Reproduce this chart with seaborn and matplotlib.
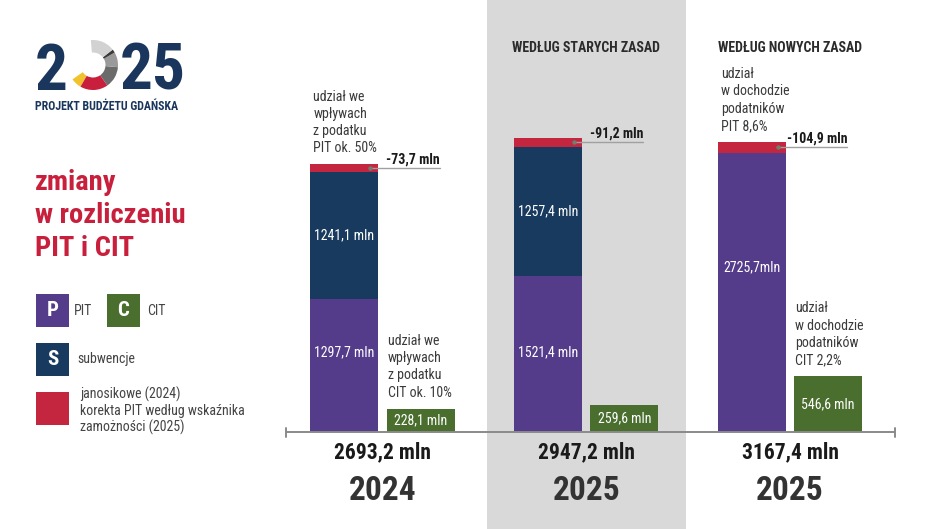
import numpy as np
import pandas as pd
import matplotlib
matplotlib.use("Agg")
import matplotlib.pyplot as plt
from matplotlib import font_manager as fm
from matplotlib.patches import Wedge, Rectangle
from matplotlib.transforms import Affine2D
import seaborn as sns

# ---------------- data ----------------
groups = ["2024", "2025 stare zasady", "2025 nowe zasady"]
years = ["2024", "2025", "2025"]
pit = [1297.7, 1521.4, 2725.7]
subwencje = [1241.1, 1257.4, 0.0]
cit = [228.1, 259.6, 546.6]
korekta = [73.7, 91.2, 104.9]          # janosikowe / korekta (shown as minus)
headers = ["", "WEDŁUG STARYCH ZASAD", "WEDŁUG NOWYCH ZASAD"]
pit_notes = [["udział we", "wpływach", "z podatku", "PIT ok. 50%"], [],
             ["udział", "w dochodzie", "podatników", "PIT 8,6%"]]
cit_notes = [["udział we", "wpływach", "z podatku", "CIT ok. 10%"], [],
             ["udział", "w dochodzie", "podatników", "CIT 2,2%"]]
pit_unit_sep = [" ", " ", ""]
title_lines = ["zmiany", "w rozliczeniu", "PIT i CIT"]

# ---------------- style ----------------
C_PIT = "#553c8b"
C_SUB = "#173a5e"
C_RED = "#c4253f"
C_CIT = "#4a6e2e"
C_BAND = "#d9d9d9"
C_TXT = "#2b2b2b"
C_NAVY = "#1b365d"
C_TITLE = "#c8203c"

sns.set_theme(style="white")
avail = {f.name for f in fm.fontManager.ttflist}
narrow = "DejaVu Sans"
for cand in ["Roboto Condensed", "Liberation Sans Narrow", "Open Sans Condensed",
             "Arial Narrow", "Noto Sans Display"]:
    if cand in avail:
        narrow = cand
        break
plt.rcParams["font.family"] = [narrow, "DejaVu Sans"]
FS = dict(fontstretch="condensed")

W, H = 940, 529
fig = plt.figure(figsize=(W / 100, H / 100), dpi=100, facecolor="white")
ax = fig.add_axes([0, 0, 1, 1])

X0, XS = 382.5, 203.75   # px of group 0 centre, px per category
Y0, YS = 432.0, 0.1025   # px of baseline, px per mln


def dx(px):
    return (px - X0) / XS


def dy(py):
    return (Y0 - py) / YS


def fx(px):
    return px / W


def fy(py):
    return 1 - py / H


pxT = Affine2D().scale(1 / W, -1 / H).translate(0, 1) + fig.transFigure

# background band for "old rules" group
ax.axvspan(dx(487), dx(686), color=C_BAND, lw=0, zorder=0)

# ---------------- bars (stack drawn as overlapping cumulative layers) ----------------
pit_a = np.array(pit)
sub_a = np.array(subwencje)
cit_a = np.array(cit)
red_a = np.array(korekta)


def layer(vals, kind, color):
    d = pd.DataFrame({"grupa": groups, "typ": kind, "wartosc": vals})
    sns.barplot(data=d, x="grupa", y="wartosc", hue="typ", order=groups,
                hue_order=["stos", "CIT"], palette={"stos": color, "CIT": color},
                dodge=True, width=0.75, gap=0.11, saturation=1, errorbar=None,
                legend=False, ax=ax, linewidth=0, zorder=2)


layer(pit_a + sub_a + red_a, "stos", C_RED)
layer(pit_a + sub_a, "stos", C_SUB)
layer(pit_a, "stos", C_PIT)
layer(cit_a, "CIT", C_CIT)

OFF = 0.1875
HALF = 0.167


def pl(v):
    return f"{v:.1f}".replace(".", ",")


pit_label_frac = [0.60, 0.51, 0.59]
for i in range(len(groups)):
    xs = i - OFF
    xc = i + OFF
    # inside labels
    ax.text(xs, pit_a[i] * pit_label_frac[i], pl(pit_a[i]) + pit_unit_sep[i] + "mln",
            ha="center", va="center", color="white", fontsize=10, zorder=5, **FS)
    if sub_a[i] > 0:
        ax.text(xs, pit_a[i] + sub_a[i] / 2, pl(sub_a[i]) + " mln",
                ha="center", va="center", color="white", fontsize=10, zorder=5, **FS)
    ax.text(xc, cit_a[i] / 2, pl(cit_a[i]) + " mln",
            ha="center", va="center", color="white", fontsize=10, zorder=5, **FS)
    # correction leader line
    ymid = pit_a[i] + sub_a[i] + red_a[i] / 2
    x_dot = xs + HALF - 0.04
    x_end = i + 0.28
    ax.plot([x_dot, x_end], [ymid, ymid], color="#a0a0a0", lw=1.0, zorder=6)
    ax.plot([x_dot], [ymid], marker="o", ms=2.2, color="#6f7f6f", zorder=7)
    ax.text(x_end, ymid + 4.5 / YS, "-" + pl(red_a[i]) + " mln", ha="right",
            va="baseline", color="#1a1a1a", fontsize=10, fontweight="bold", zorder=6, **FS)
    # totals and years
    total = pit_a[i] + sub_a[i] + cit_a[i] - red_a[i]
    ax.text(i, dy(458), pl(total) + " mln", ha="center", va="baseline",
            color="#1a1a1a", fontsize=15.5, fontweight="bold", **FS)
    ax.text(i, dy(500), years[i], ha="center", va="baseline",
            color="#333333", fontsize=24, fontweight="heavy", **FS)
    if headers[i]:
        ax.text(i, dy(52), headers[i], ha="center", va="baseline", color=C_TXT,
                fontsize=10, fontweight="bold", **FS)
    # notes above bars
    top_stack = pit_a[i] + sub_a[i] + red_a[i]
    for notes, xleft, top in ((pit_notes[i], xs - HALF + 3 / XS, top_stack),
                              (cit_notes[i], xc - HALF + 1 / XS, cit_a[i])):
        n = len(notes)
        for k, line in enumerate(notes):
            yb = top + (12 + (n - 1 - k) * 17.2) / YS
            ax.text(xleft, yb, line, ha="left", va="baseline", color="#3a3a3a",
                    fontsize=10, **FS)

# axis line with end caps
xa0, xa1 = dx(286), dx(895)
ax.plot([xa0, xa1], [0, 0], color="#8a8a8a", lw=1.4, zorder=8, solid_capstyle="butt")
for xe in (xa0, xa1):
    ax.plot([xe, xe], [-4.5 / YS, 4.5 / YS], color="#8a8a8a", lw=1.4, zorder=8)

ax.set_xlim(dx(0), dx(W))
ax.set_ylim(dy(H), dy(0))
ax.set_axis_off()

# ---------------- logo ----------------
fig.text(fx(35), fy(90), "2", ha="left", va="baseline", color=C_NAVY,
         fontsize=47, fontweight="bold", **FS)
fig.text(fx(120), fy(90), "25", ha="left", va="baseline", color=C_NAVY,
         fontsize=47, fontweight="bold", **FS)
cx, cy, r_out, r_w = 0.93, (H - 65) / 100, 0.25, 0.125
for t1, t2, col in [(-145, -120, "#f2c12e"), (-120, -55, "#c8203c"),
                    (-55, -5, "#6b6b6b"), (-5, 30, "#9a9a9a"),
                    (30, 38, "#3a3a3a"), (38, 95, "#d2d2d2")]:
    fig.add_artist(Wedge((cx, cy), r_out, t1, t2, width=r_w, facecolor=col,
                         edgecolor="none", transform=fig.dpi_scale_trans))
fig.text(fx(35), fy(110), "PROJEKT BUDŻETU GDAŃSKA", ha="left", va="baseline",
         color=C_NAVY, fontsize=8.6, fontweight="bold", **FS)

# ---------------- title ----------------
for k, line in enumerate(title_lines):
    fig.text(fx(35), fy(190 + k * 33), line, ha="left", va="baseline",
             color=C_TITLE, fontsize=20.5, fontweight="bold", **FS)

# ---------------- legend ----------------
legend_boxes = [(36, 294, C_PIT, "P"), (107, 294, C_CIT, "C"), (36, 343, C_SUB, "S"),
                (36, 392, C_RED, "")]
for bx, by, col, letter in legend_boxes:
    fig.add_artist(Rectangle((bx, by), 33, 33, transform=pxT, facecolor=col,
                             edgecolor="none"))
    if letter:
        fig.text(fx(bx + 16.5), fy(by + 16.5), letter, ha="center", va="center",
                 color="white", fontsize=15, fontweight="bold", **FS)
fig.text(fx(74), fy(315), "PIT", ha="left", va="baseline", color="#444444", fontsize=10, **FS)
fig.text(fx(147), fy(315), "CIT", ha="left", va="baseline", color="#444444", fontsize=10, **FS)
fig.text(fx(77), fy(363), "subwencje", ha="left", va="baseline", color="#444444", fontsize=10, **FS)
for k, line in enumerate(["janosikowe (2024)", "korekta PIT według wskaźnika",
                          "zamożności (2025)"]):
    fig.text(fx(80), fy(399 + k * 16.5), line, ha="left", va="baseline",
             color="#444444", fontsize=10, **FS)

fig.savefig("out.png", dpi=100, facecolor="white")
